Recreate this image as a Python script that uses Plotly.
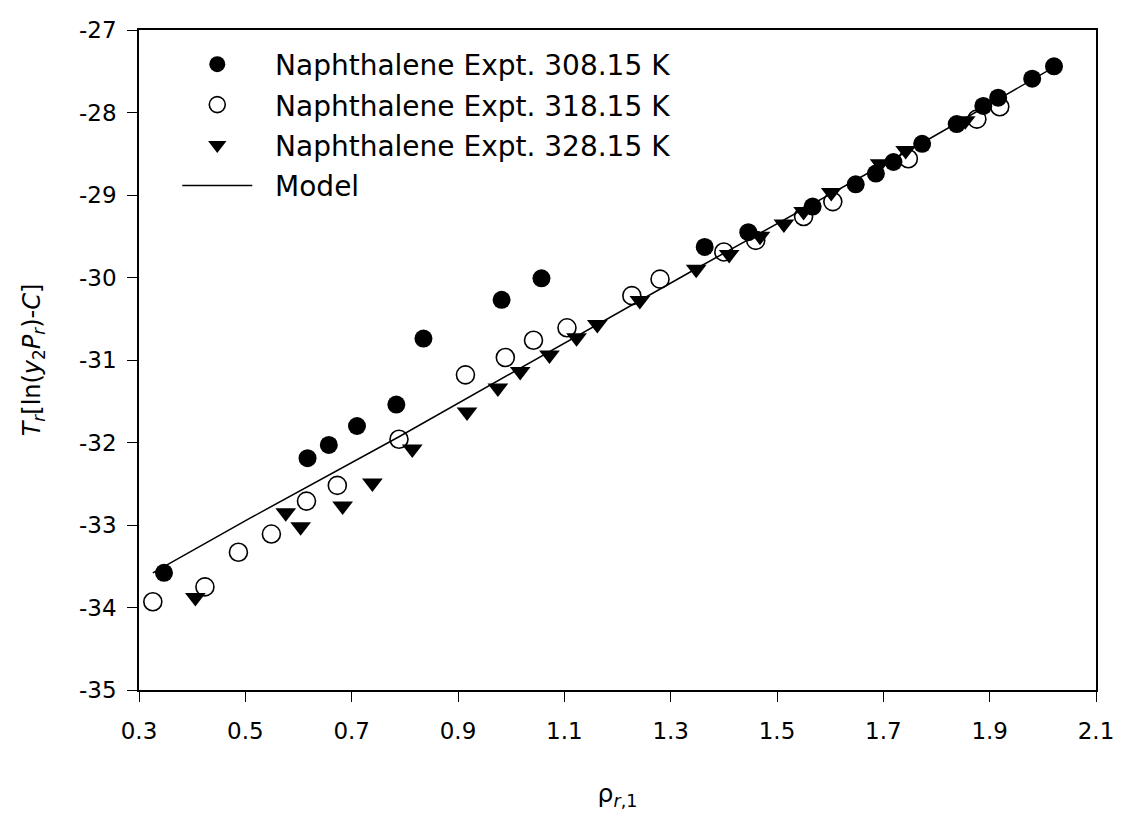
import plotly.graph_objects as go

# Naphthalene Expt. 308.15 K (filled circles)
x_308 = [0.347, 0.617, 0.657, 0.710, 0.784, 0.835, 0.982, 1.057, 1.364, 1.446,
         1.567, 1.648, 1.686, 1.719, 1.773, 1.838, 1.888, 1.916, 1.980, 2.021]
y_308 = [-33.58, -32.19, -32.03, -31.80, -31.54, -30.74, -30.27, -30.01, -29.63, -29.45,
         -29.14, -28.87, -28.74, -28.60, -28.38, -28.14, -27.92, -27.82, -27.59, -27.44]

# Naphthalene Expt. 318.15 K (open circles)
x_318 = [0.326, 0.424, 0.487, 0.549, 0.615, 0.673, 0.789, 0.914, 0.989, 1.042,
         1.105, 1.227, 1.280, 1.400, 1.460, 1.550, 1.605, 1.747, 1.876, 1.919]
y_318 = [-33.93, -33.75, -33.33, -33.11, -32.71, -32.52, -31.96, -31.18, -30.97, -30.76,
         -30.61, -30.22, -30.02, -29.69, -29.55, -29.26, -29.08, -28.56, -28.08, -27.93]

# Naphthalene Expt. 328.15 K (filled down-triangles)
x_328 = [0.406, 0.576, 0.604, 0.683, 0.739, 0.814, 0.917, 0.975, 1.017, 1.072, 1.123,
         1.162, 1.242, 1.348, 1.410, 1.468, 1.513, 1.550, 1.602, 1.694, 1.742, 1.854]
y_328 = [-33.88, -32.85, -33.02, -32.77, -32.49, -32.08, -31.63, -31.34, -31.14, -30.94, -30.73,
         -30.57, -30.28, -29.90, -29.72, -29.50, -29.35, -29.20, -28.97, -28.62, -28.46, -28.10]

# Model line
x_model = [0.326, 0.508, 0.789, 1.346, 1.773, 2.021]
y_model = [-33.58, -32.92, -31.93, -29.90, -28.37, -27.45]

x_ticks = [0.3, 0.5, 0.7, 0.9, 1.1, 1.3, 1.5, 1.7, 1.9, 2.1]
y_ticks = [-35, -34, -33, -32, -31, -30, -29, -28, -27]

FONT = "DejaVu Sans, sans-serif"
PAD = "\u00a0\u00a0"

fig = go.Figure()
fig.add_trace(go.Scatter(x=x_model, y=y_model, mode="lines", name=PAD + "Model",
                         line=dict(color="black", width=1.5),
                         legendrank=4, legendgroup="m"))
fig.add_trace(go.Scatter(x=x_308, y=y_308, mode="markers", name=PAD + "Naphthalene Expt. 308.15 K",
                         marker=dict(symbol="circle", size=18, color="black"),
                         legendrank=1, legendgroup="a"))
fig.add_trace(go.Scatter(x=x_318, y=y_318, mode="markers", name=PAD + "Naphthalene Expt. 318.15 K",
                         marker=dict(symbol="circle-open", size=18, color="black",
                                     line=dict(width=1.6, color="black")),
                         legendrank=2, legendgroup="b"))
fig.add_trace(go.Scatter(x=x_328, y=y_328, mode="markers", name=PAD + "Naphthalene Expt. 328.15 K",
                         marker=dict(symbol="triangle-down", size=18, color="black"),
                         legendrank=3, legendgroup="c"))

axis_common = dict(showline=True, linecolor="black", linewidth=1.5, mirror=True,
                   ticks="outside", ticklen=10, tickwidth=1.2, tickcolor="black",
                   showgrid=False, zeroline=False, ticklabeloverflow="allow",
                   tickfont=dict(family=FONT, size=23, color="black"))

fig.update_xaxes(range=[0.3, 2.1], tickvals=x_ticks, ticktext=[f"{v:.1f}" for v in x_ticks],
                 ticklabelstandoff=10,
                 title=dict(text="ρ<sub><i>r</i>,1</sub>", font=dict(family=FONT, size=25, color="black"),
                            standoff=41),
                 **axis_common)
fig.update_yaxes(range=[-35, -27], tickvals=y_ticks, ticktext=[str(v) for v in y_ticks],
                 ticklabelstandoff=6,
                 title=dict(text="<i>T</i><sub><i>r</i></sub>[ln(<i>y</i><sub>2</sub><i>P</i><sub><i>r</i></sub>)-<i>C</i>]",
                            font=dict(family=FONT, size=24, color="black"), standoff=32),
                 **axis_common)

# the page body keeps its default 8px margin, so the figure is 8px smaller
# and its margins are shifted to land the plot area at the reference position
fig.update_layout(
    width=1115, height=810,
    margin=dict(l=131, r=22, t=9, b=128),
    plot_bgcolor="white", paper_bgcolor="white",
    font=dict(family=FONT, color="black"),
    legend=dict(x=0.04, y=0.9856, xanchor="left", yanchor="top",
                font=dict(family=FONT, size=28, color="black"),
                bgcolor="rgba(0,0,0,0)", borderwidth=0, tracegroupgap=1,
                itemwidth=70),
    showlegend=True,
)

fig.write_html("out.html", config={"displayModeBar": False})
